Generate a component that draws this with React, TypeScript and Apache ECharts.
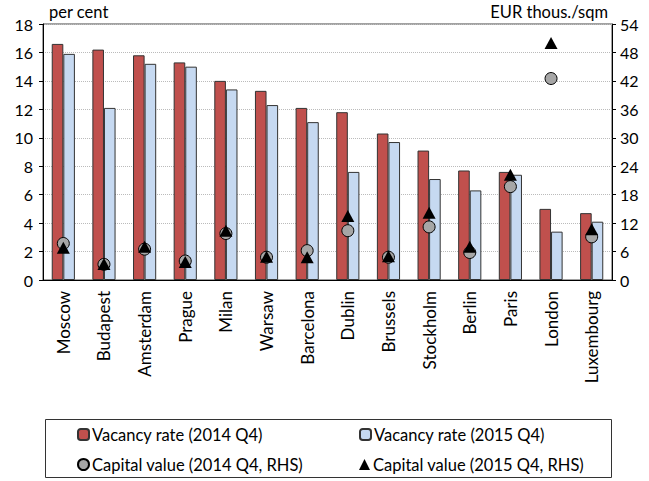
import React, { useEffect, useRef } from "react";
import * as echarts from "echarts";

const cities = ["Moscow", "Budapest", "Amsterdam", "Prague", "Milan", "Warsaw", "Barcelona", "Dublin", "Brussels", "Stockholm", "Berlin", "Paris", "London", "Luxembourg"];
const vac2014 = [16.6, 16.2, 15.8, 15.3, 14.0, 13.3, 12.1, 11.8, 10.3, 9.1, 7.7, 7.6, 5.0, 4.7];
const vac2015 = [15.9, 12.1, 15.2, 15.0, 13.4, 12.3, 11.1, 7.6, 9.7, 7.1, 6.3, 7.4, 3.4, 4.1];
const cap2014 = [7.7, 3.3, 6.5, 4.0, 9.8, 4.8, 6.2, 10.4, 4.8, 11.2, 5.8, 19.7, 42.5, 9.1];
const cap2015 = [6.8, 3.4, 7.0, 3.8, 10.4, 4.9, 4.8, 13.5, 5.0, 14.2, 7.0, 22.2, 50.0, 10.7];
const seriesNames = [
  "Vacancy rate (2014 Q4)",
  "Vacancy rate (2015 Q4)",
  "Capital value (2014 Q4, RHS)",
  "Capital value (2015 Q4, RHS)",
];

const FONT = "Lato";

export default function App() {
  const ref = useRef<HTMLDivElement>(null);
  useEffect(() => {
    if (!ref.current) return;
    const chart = echarts.init(ref.current, null, { renderer: "svg" });
    const legendBase = {
      itemWidth: 11,
      itemHeight: 11,
      itemGap: 0,
      textStyle: { fontFamily: FONT, fontSize: 16.5, color: "#000", padding: [0, 0, 0, -2] },
    };
    chart.setOption({
      animation: false,
      textStyle: { fontFamily: FONT },
      grid: { left: 43, right: 37, top: 24, bottom: 201, show: true, borderColor: "#444", borderWidth: 1 },
      legend: [
        { ...legendBase, data: [seriesNames[0]], left: 72, top: 421 },
        { ...legendBase, data: [seriesNames[1]], left: 354, top: 421 },
        { ...legendBase, data: [seriesNames[2]], left: 72, top: 451 },
        { ...legendBase, data: [seriesNames[3]], left: 354, top: 451 },
      ],
      graphic: [
        {
          type: "rect",
          shape: { x: 45.5, y: 419.5, width: 566, height: 58 },
          style: { fill: "none", stroke: "#333", lineWidth: 1 },
        },
      ],
      xAxis: {
        type: "category",
        data: cities,
        axisLine: { lineStyle: { color: "#000", width: 1 } },
        axisTick: { length: 5, lineStyle: { color: "#666" } },
        axisLabel: { rotate: 90, margin: 11, fontSize: 17, color: "#000", fontFamily: FONT },
      },
      yAxis: [
        {
          type: "value",
          min: 0,
          max: 18,
          interval: 2,
          name: "per cent",
          nameLocation: "end",
          nameGap: 4,
          nameTextStyle: { align: "left", fontSize: 16.5, color: "#000", fontFamily: FONT, padding: [0, 0, 0, 6] },
          axisLine: { show: true, lineStyle: { color: "#000" } },
          axisTick: { show: true, length: 4, lineStyle: { color: "#000" } },
          axisLabel: { fontSize: 16, color: "#000", margin: 10, fontFamily: FONT },
          splitLine: { show: true, lineStyle: { type: "dotted", color: "#bbb" } },
        },
        {
          type: "value",
          min: 0,
          max: 54,
          interval: 6,
          name: "EUR thous./sqm",
          nameLocation: "end",
          nameGap: 4,
          nameTextStyle: { align: "right", fontSize: 16.5, color: "#000", fontFamily: FONT, padding: [0, 4, 0, 0] },
          axisLine: { show: true, lineStyle: { color: "#000" } },
          axisTick: { show: true, length: 4, lineStyle: { color: "#000" } },
          axisLabel: { fontSize: 16, color: "#000", margin: 8, fontFamily: FONT },
          splitLine: { show: false },
        },
      ],
      series: [
        {
          name: seriesNames[0],
          type: "bar",
          data: vac2014,
          barGap: "0%",
          barCategoryGap: "43%",
          itemStyle: { color: "#C0504D", borderColor: "#333", borderWidth: 1 },
        },
        {
          name: seriesNames[1],
          type: "bar",
          data: vac2015,
          itemStyle: { color: "#C6D9F1", borderColor: "#333", borderWidth: 1 },
        },
        {
          name: seriesNames[2],
          type: "scatter",
          yAxisIndex: 1,
          data: cap2014,
          symbol: "circle",
          symbolSize: 12,
          itemStyle: { color: "#A6A6A6", borderColor: "#000", borderWidth: 1, opacity: 1 },
          z: 3,
        },
        {
          name: seriesNames[3],
          type: "scatter",
          yAxisIndex: 1,
          data: cap2015,
          symbol: "triangle",
          symbolSize: [13, 12],
          itemStyle: { color: "#000", opacity: 1 },
          z: 4,
        },
      ],
    });
    return () => chart.dispose();
  }, []);
  return <div ref={ref} style={{ width: 649, height: 481, position: "absolute", left: 0, top: 0 }} />;
}
